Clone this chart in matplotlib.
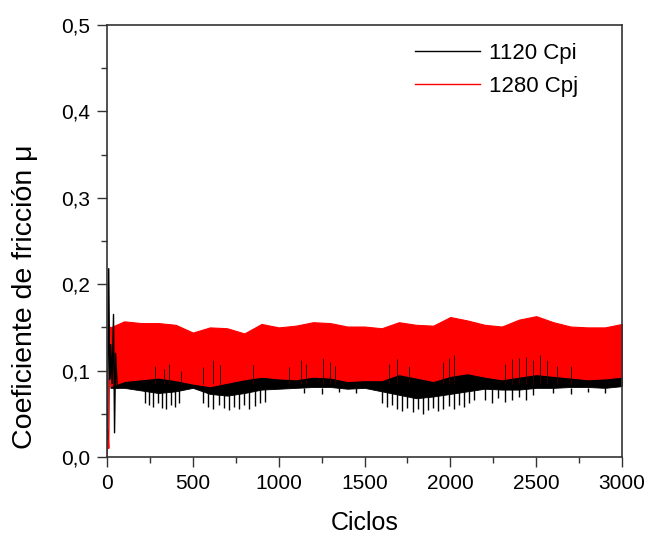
import matplotlib
matplotlib.use("Agg")
from matplotlib import pyplot as plt
from matplotlib.ticker import MultipleLocator, FuncFormatter

plt.rcParams['font.family'] = ['Liberation Sans', 'DejaVu Sans']

# envelope of the dense oscillation, read every 100 cycles
cycles = [20, 100, 200, 300, 400, 500, 600, 700, 800, 900, 1000,
          1100, 1200, 1300, 1400, 1500, 1600, 1700, 1800, 1900, 2000,
          2100, 2200, 2300, 2400, 2500, 2600, 2700, 2800, 2900, 3000]

red_hi = [0.150, 0.157, 0.155, 0.155, 0.153, 0.144, 0.150, 0.149, 0.143, 0.154, 0.150,
          0.152, 0.156, 0.155, 0.151, 0.151, 0.149, 0.156, 0.153, 0.152, 0.162,
          0.158, 0.153, 0.151, 0.159, 0.163, 0.156, 0.151, 0.150, 0.150, 0.154]
red_lo = [0.082, 0.088, 0.090, 0.092, 0.089, 0.085, 0.082, 0.086, 0.090, 0.093, 0.091,
          0.090, 0.093, 0.092, 0.088, 0.089, 0.089, 0.096, 0.092, 0.088, 0.094,
          0.097, 0.093, 0.090, 0.093, 0.096, 0.094, 0.092, 0.090, 0.091, 0.093]

black_hi = [0.090, 0.094, 0.096, 0.097, 0.094, 0.090, 0.088, 0.091, 0.095, 0.098, 0.096,
            0.095, 0.098, 0.097, 0.093, 0.094, 0.094, 0.100, 0.097, 0.093, 0.099,
            0.101, 0.098, 0.095, 0.098, 0.100, 0.099, 0.097, 0.095, 0.096, 0.098]
black_lo = [0.080, 0.080, 0.077, 0.074, 0.076, 0.080, 0.073, 0.071, 0.074, 0.078, 0.079,
            0.080, 0.081, 0.081, 0.079, 0.080, 0.076, 0.072, 0.068, 0.070, 0.073,
            0.076, 0.079, 0.078, 0.078, 0.080, 0.080, 0.081, 0.081, 0.080, 0.082]

# single downward spikes of the black curve (cycle, minimum)
dn_x = [220, 245, 270, 295, 320, 345, 370, 395, 420,
        560, 590, 620, 650, 680, 710, 740, 770, 800, 830, 860, 890, 920,
        1150, 1250, 1350, 1450,
        1600, 1630, 1660, 1690, 1720, 1750, 1780, 1810, 1840, 1870, 1900, 1930,
        1960, 1990, 2020, 2050, 2080, 2110, 2140,
        2200, 2240, 2280, 2320, 2360, 2400, 2440, 2480,
        2600, 2700, 2800, 2900]
dn_y = [0.062, 0.060, 0.058, 0.063, 0.057, 0.056, 0.060, 0.058, 0.062,
        0.062, 0.058, 0.056, 0.060, 0.057, 0.054, 0.058, 0.055, 0.060, 0.056, 0.059, 0.062, 0.064,
        0.074, 0.073, 0.075, 0.074,
        0.062, 0.058, 0.060, 0.056, 0.053, 0.057, 0.052, 0.055, 0.050, 0.054, 0.057, 0.053,
        0.056, 0.059, 0.055, 0.060, 0.058, 0.063, 0.066,
        0.066, 0.062, 0.068, 0.064, 0.066, 0.069, 0.066, 0.072,
        0.074, 0.073, 0.075, 0.074]

# upward spikes of the black curve into the red band (cycle, maximum)
up_x = [280, 330, 360, 430, 560, 620, 660, 850, 1060, 1130, 1160, 1260, 1300, 1330,
        1640, 1690, 1760, 1960, 1990, 2020, 2320, 2360, 2400, 2440, 2480, 2520, 2560,
        2620, 2700]
up_y = [0.105, 0.102, 0.108, 0.100, 0.104, 0.112, 0.106, 0.107, 0.104, 0.112, 0.108, 0.115,
        0.110, 0.105, 0.108, 0.113, 0.105, 0.110, 0.115, 0.118, 0.108, 0.113, 0.115, 0.116,
        0.112, 0.118, 0.112, 0.105, 0.105]

# running-in transient at the start
black_start_x = [3, 10, 16, 22, 30, 38, 44, 50, 60]
black_start_y = [0.020, 0.218, 0.090, 0.130, 0.085, 0.165, 0.028, 0.120, 0.080]
red_start_x = [0, 5, 10, 15, 20]
red_start_y = [0.000, 0.030, 0.010, 0.120, 0.150]

fig = plt.figure(figsize=(6.5, 5.37), dpi=100)
ax = fig.add_axes([0.1646, 0.149, 0.7924, 0.8044])

ax.fill_between(cycles, black_lo, black_hi, color='black', lw=0.6)
ax.vlines(dn_x, dn_y, [0.08] * len(dn_x), color='black', lw=1.0)
ax.fill_between(cycles, red_lo, red_hi, color='#ff0000', lw=0.8)
ax.plot(red_start_x, red_start_y, color='#ff0000', lw=1.0)
ax.vlines(up_x, [0.085] * len(up_x), up_y, color='#300000', lw=0.7)
ax.plot(black_start_x, black_start_y, color='black', lw=1.0)

# legend proxies
ax.plot([], [], color='black', lw=1.0, label='1120 Cpi')
ax.plot([], [], color='#ff0000', lw=1.0, label='1280 Cpj')
ax.legend(loc='upper left', bbox_to_anchor=(0.56, 1.005), frameon=False,
          fontsize=16, handlelength=2.9, labelspacing=0.55, handletextpad=0.4)

ax.set_xlim(0, 3000)
ax.set_ylim(0, 0.5)
ax.xaxis.set_major_locator(MultipleLocator(500))
ax.xaxis.set_minor_locator(MultipleLocator(250))
ax.yaxis.set_major_locator(MultipleLocator(0.1))
ax.yaxis.set_minor_locator(MultipleLocator(0.05))
ax.yaxis.set_major_formatter(FuncFormatter(lambda v, p: f"{v:.1f}".replace('.', ',')))

ax.tick_params(which='both', direction='out', top=False, right=False,
               labelsize=15, color='#333333', width=1.0)
ax.tick_params(which='major', length=7, pad=5)
ax.tick_params(which='minor', length=4)
for s in ax.spines.values():
    s.set_color('#333333')
    s.set_linewidth(1.2)

ax.set_xlabel('Ciclos', fontsize=18, labelpad=13)
ax.set_ylabel('Coeficiente de fricción μ', fontsize=20.5)
ax.yaxis.set_label_coords(-0.134, 0.37)

fig.savefig('out.png', dpi=100)
